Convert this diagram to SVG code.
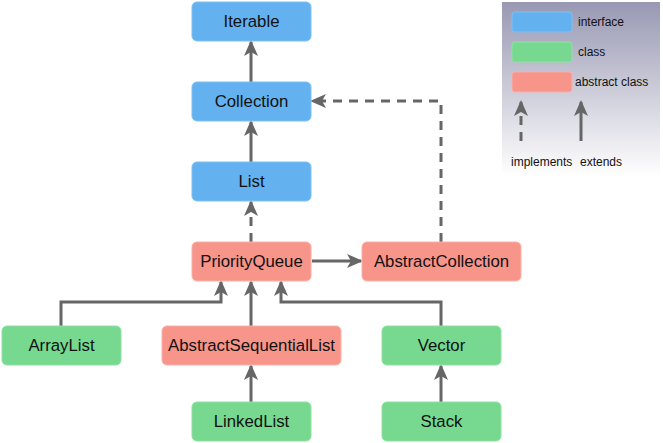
<svg xmlns="http://www.w3.org/2000/svg" width="663" height="443" viewBox="0 0 663 443">
<style>
.n text{font-family:"Liberation Sans",Arial,sans-serif;font-size:16.8px;fill:#111;text-anchor:middle;dominant-baseline:central}
.i{fill:#63b2ef;stroke:#7fc0f2;stroke-width:1}
.c{fill:#76d98f;stroke:#8fe0a3;stroke-width:1}
.a{fill:#f8958a;stroke:#fab0a8;stroke-width:1}
.e{fill:none;stroke:#666;stroke-width:3}
.d{stroke-dasharray:9 7}
.lg{font-family:"Liberation Sans",Arial,sans-serif;font-size:12px;fill:#111}
</style>
<defs>
<marker id="ar" viewBox="0 0 16 16" refX="14" refY="8" markerWidth="16" markerHeight="16" markerUnits="userSpaceOnUse" orient="auto">
<path d="M0,1 L16,8 L0,15 L4,8 Z" fill="#666"/>
</marker>
<linearGradient id="lgg" x1="0" y1="0" x2="0" y2="1">
<stop offset="0" stop-color="#9898b3"/>
<stop offset="1" stop-color="#ffffff"/>
</linearGradient>
</defs>
<g id="legend">
<rect x="502" y="2" width="158" height="174" fill="url(#lgg)"/>
<rect x="512" y="12" width="60" height="20" rx="3" class="i"/>
<rect x="512" y="42" width="60" height="20" rx="3" class="c"/>
<rect x="512" y="72" width="60" height="20" rx="3" class="a"/>
<text x="578" y="26" class="lg">interface</text>
<text x="578" y="56" class="lg">class</text>
<text x="575" y="86" class="lg">abstract class</text>
<path d="M521,141 L521,102" class="e d" marker-end="url(#ar)"/>
<path d="M581,141 L581,102" class="e" marker-end="url(#ar)"/>
<text x="511" y="166" class="lg">implements</text>
<text x="580" y="166" class="lg">extends</text>
</g>
<g id="connectors">
<path d="M251,82 L251,42" class="e" marker-end="url(#ar)"/>
<path d="M251,162 L251,122" class="e" marker-end="url(#ar)"/>
<path d="M251,242 L251,202" class="e d" marker-end="url(#ar)"/>
<path d="M441,242 L441,101 L312,101" class="e d" marker-end="url(#ar)"/>
<path d="M312,261 L361,261" class="e" marker-end="url(#ar)"/>
<path d="M61,326 L61,302 L221,302 L221,282" class="e" marker-end="url(#ar)"/>
<path d="M251,326 L251,282" class="e" marker-end="url(#ar)"/>
<path d="M441,326 L441,302 L281,302 L281,282" class="e" marker-end="url(#ar)"/>
<path d="M251,402 L251,366" class="e" marker-end="url(#ar)"/>
<path d="M441,402 L441,366" class="e" marker-end="url(#ar)"/>
</g>
<g id="Iterable" class="n"><rect x="192" y="2" width="119" height="39" rx="5" class="i"/><text x="251.5" y="21.5">Iterable</text></g>
<g id="Collection" class="n"><rect x="192" y="82" width="119" height="39" rx="5" class="i"/><text x="251.5" y="101.5">Collection</text></g>
<g id="List" class="n"><rect x="192" y="162" width="119" height="39" rx="5" class="i"/><text x="251.5" y="181.5">List</text></g>
<g id="PriorityQueue" class="n"><rect x="192" y="242" width="119" height="39" rx="5" class="a"/><text x="251.5" y="261.5">PriorityQueue</text></g>
<g id="AbstractCollection" class="n"><rect x="362" y="242" width="159" height="39" rx="5" class="a"/><text x="441.5" y="261.5">AbstractCollection</text></g>
<g id="ArrayList" class="n"><rect x="2" y="326" width="119" height="39" rx="5" class="c"/><text x="61.5" y="345.5">ArrayList</text></g>
<g id="AbstractSequentialList" class="n"><rect x="162" y="326" width="179" height="39" rx="5" class="a"/><text x="251.5" y="345.5">AbstractSequentialList</text></g>
<g id="Vector" class="n"><rect x="382" y="326" width="119" height="39" rx="5" class="c"/><text x="441.5" y="345.5">Vector</text></g>
<g id="LinkedList" class="n"><rect x="192" y="402" width="119" height="39" rx="5" class="c"/><text x="251.5" y="421.5">LinkedList</text></g>
<g id="Stack" class="n"><rect x="382" y="402" width="119" height="39" rx="5" class="c"/><text x="441.5" y="421.5">Stack</text></g>
</svg>
